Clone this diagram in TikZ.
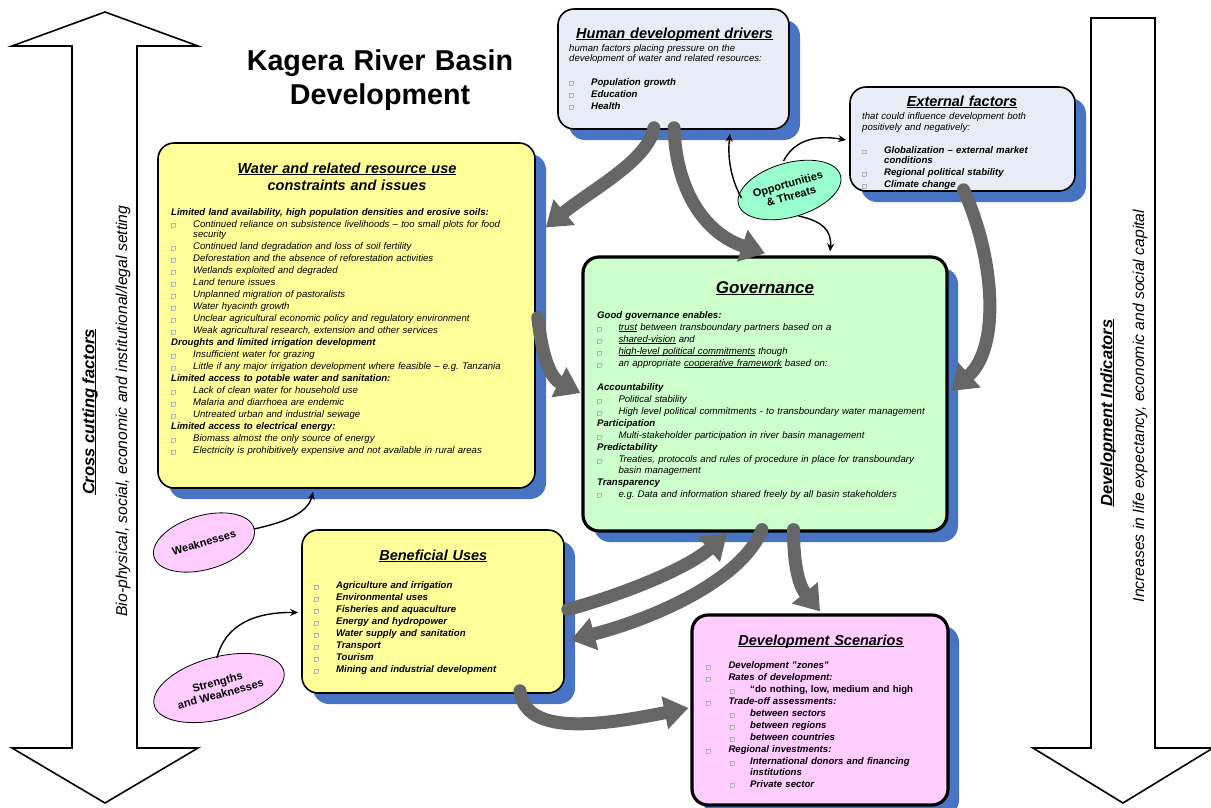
\documentclass[tikz,border=0pt]{standalone}
\usepackage{fontspec}
\setmainfont{Liberation Sans}
\usetikzlibrary{arrows.meta,shapes.geometric,shadows,calc}
\definecolor{shblue}{RGB}{72,116,196}
\definecolor{lblue}{RGB}{231,236,247}
\definecolor{lyel}{RGB}{255,255,153}
\definecolor{lgreen}{RGB}{204,255,204}
\definecolor{lpink}{RGB}{255,204,255}
\definecolor{mint}{RGB}{153,255,204}
\definecolor{agray}{RGB}{102,102,102}
\frenchspacing
\newcommand\bul{{\color{black!30}\setlength\fboxsep{0pt}\setlength\fboxrule{0.4pt}\fbox{\rule{0pt}{3.4pt}\hspace{3.2pt}}}}
\newcommand\itm[2][22pt]{\hangindent=#1\hangafter=1\makebox[#1][l]{\bul}#2\par}
\newcommand\sitm[1]{\hangindent=44pt\hangafter=1\leavevmode\hspace*{24pt}\makebox[20pt][l]{\bul}#1\par}
\newcommand\hd[1]{{\bfseries #1}\par}
\newcommand\ul[1]{\setbox0\hbox{#1}\rlap{\rule[-0.13em]{\wd0}{0.07em}}\box0\relax}
\begin{document}
\begin{tikzpicture}[x=1pt,y=-1pt,
 box/.style={draw=black, line width=1.6pt, rounded corners=16pt, inner sep=0pt,
   general shadow={shadow xshift=11pt, shadow yshift=-11pt, fill=shblue}},
 thickbox/.style={box, line width=3.2pt},
 body/.style={anchor=base west, inner sep=0pt, align=left, text width=#1,
   font=\fontsize{9.6}{10.5}\selectfont\itshape,
   execute at begin node={\setlength\parskip{1.5pt}}},
 btitle/.style={anchor=base, inner sep=0pt, align=center, text width=330pt,
   font=\fontsize{14.5}{17}\selectfont\bfseries\itshape},
 garrow/.style={draw=agray, line width=13pt, line cap=round, -{Triangle[width=32pt,length=24pt]}},
 tarrow/.style={draw=black, line width=1.4pt, -{Stealth[width=7pt,length=8pt]}},
 oval/.style={ellipse, draw=black, line width=0.8pt, inner sep=0pt, align=center,
   font=\fontsize{11}{12.5}\selectfont\bfseries},
 bigarrow/.style={draw=black, line width=1.6pt, fill=white},
 sidetitle/.style={rotate=90, inner sep=0pt, font=\fontsize{16.5}{18}\selectfont\bfseries\itshape},
 sidetext/.style={rotate=90, inner sep=0pt, font=\fontsize{15.7}{18}\selectfont\itshape}
]
\useasboundingbox (0,0) rectangle (1211,807);
\fill[white] (0,0) rectangle (1211,807);

% big side arrows
\draw[bigarrow] (105,12) -- (198,46) -- (137,46) -- (137,748) -- (198,748) -- (105,803) -- (12,748) -- (72,748) -- (72,46) -- (12,46) -- cycle;
\draw[bigarrow] (1091,18) -- (1155,18) -- (1155,748) -- (1213,748) -- (1123,803) -- (1033,748) -- (1091,748) -- cycle;
\node[sidetitle] (cc) at (90,412) {\ul{Cross cutting factors}};
\node[sidetext] (bio) at (123,411) {Bio-physical, social, economic and institutional/legal setting};
\node[sidetitle] (di) at (1108,413) {\ul{Development Indicators}};
\node[sidetext] (inc) at (1140,406) {Increases in life expectancy, economic and social capital};

% main title
\node[anchor=base, inner sep=0pt, align=center, text width=400pt,
  font=\fontsize{28.7}{34}\selectfont\bfseries] (title) at (380,70) {Kagera River Basin\\Development};

% boxes
\node[box, fill=lblue, minimum width=231pt, minimum height=120pt] (human) at (673.5,69) {};
\node[box, fill=lblue, minimum width=225pt, minimum height=104pt] (ext) at (962.5,139) {};
\node[box, fill=lyel, minimum width=377pt, minimum height=345pt] (water) at (346.5,315.5) {};
\node[thickbox, fill=lgreen, minimum width=364pt, minimum height=274pt] (gov) at (765,394) {};
\node[box, fill=lyel, minimum width=262pt, minimum height=163pt] (ben) at (433,611.5) {};
\node[thickbox, fill=lpink, minimum width=256pt, minimum height=190pt] (dev) at (820,710) {};

% human box text
\node[btitle] (humant) at (674.5,38.5) {\ul{Human development drivers}};
\node[body=215pt] (humanb) at (569,51) {human factors placing pressure on the\newline development of water and related resources:\par
\vskip11.5pt
\itm{\textbf{Population growth}}
\itm{\textbf{Education}}
\itm{\textbf{Health}}};

% external box text
\node[btitle] (extt) at (962,106) {\ul{External factors}};
\node[body=205pt] (extb) at (862,119.5) {that could influence development both\newline positively and negatively:\par
\vskip11.3pt
\itm{\textbf{Globalization -- external market\newline conditions}}
\itm{\textbf{Regional political stability}}
\itm{\textbf{Climate change}}};

% water box text
\node[btitle] (watert) at (347,173) {\ul{Water and related resource use}\\constraints and issues};
\node[body=365pt] (waterb) at (171,215) {\hd{Limited land availability, high population densities and erosive soils:}
\itm{Continued reliance on subsistence livelihoods -- too small plots for food\newline security}
\itm{Continued land degradation and loss of soil fertility}
\itm{Deforestation and the absence of reforestation activities}
\itm{Wetlands exploited and degraded}
\itm{Land tenure issues}
\itm{Unplanned migration of pastoralists}
\itm{Water hyacinth growth}
\itm{Unclear agricultural economic policy and regulatory environment}
\itm{Weak agricultural research, extension and other services}
\hd{Droughts and limited irrigation development}
\itm{Insufficient water for grazing}
\itm{Little if any major irrigation development where feasible -- e.g. Tanzania}
\hd{Limited access to potable water and sanitation:}
\itm{Lack of clean water for household use}
\itm{Malaria and diarrhoea are endemic}
\itm{Untreated urban and industrial sewage}
\hd{Limited access to electrical energy:}
\itm{Biomass almost the only source of energy}
\itm{Electricity is prohibitively expensive and not available in rural areas}};

% governance text
\node[btitle, font=\fontsize{17}{20}\selectfont\bfseries\itshape] (govt) at (765,293) {\ul{Governance}};
\node[body=345pt] (govb) at (597,318.5) {\hd{Good governance enables:}
\itm[21.3pt]{\ul{trust} between transboundary partners based on a}
\itm[21.3pt]{\ul{shared-vision} and}
\itm[21.3pt]{\ul{high-level political commitments} though}
\itm[21.3pt]{an appropriate \ul{cooperative framework} based on:}
\vskip12pt
\hd{Accountability}
\itm[21.3pt]{Political stability}
\itm[21.3pt]{High level political commitments - to transboundary water management}
\hd{Participation}
\itm[21.3pt]{Multi-stakeholder participation in river basin management}
\hd{Predictability}
\itm[21.3pt]{Treaties, protocols and rules of procedure in place for transboundary\newline basin management}
\hd{Transparency}
\itm[21.3pt]{e.g. Data and information shared freely by all basin stakeholders}};

% beneficial uses text
\node[btitle] (bent) at (433.3,560.5) {\ul{Beneficial Uses}};
\node[body=240pt] (benb) at (314,588.5) {\itm{\textbf{Agriculture and irrigation}}
\itm{\textbf{Environmental uses}}
\itm{\textbf{Fisheries and aquaculture}}
\itm{\textbf{Energy and hydropower}}
\itm{\textbf{Water supply and sanitation}}
\itm{\textbf{Transport}}
\itm{\textbf{Tourism}}
\itm{\textbf{Mining and industrial development}}};

% development scenarios text
\node[btitle] (devt) at (821,645) {\ul{Development Scenarios}};
\node[body=235pt] (devb) at (706,668.5) {\itm[22.3pt]{\textbf{Development "zones"}}
\itm[22.3pt]{\textbf{Rates of development:}}
\sitm{\textbf{\upshape “do nothing, low, medium and high}}
\itm[22.3pt]{\textbf{Trade-off assessments:}}
\sitm{\textbf{between sectors}}
\sitm{\textbf{between regions}}
\sitm{\textbf{between countries}}
\itm[22.3pt]{\textbf{Regional investments:}}
\sitm{\textbf{International donors and financing\newline institutions}}
\sitm{\textbf{Private sector}}};

% ellipses
\node[oval, fill=mint, minimum width=106pt, minimum height=54pt, rotate=16] (opp) at (789.5,190) {Opportunities\\\& Threats};
\node[oval, fill=lpink, minimum width=104pt, minimum height=54pt, rotate=16] (weak) at (204,542.5) {Weaknesses};
\node[oval, fill=lpink, minimum width=134pt, minimum height=62pt, rotate=15] (str) at (219,688) {Strengths\\and Weaknesses};

% thin arrows
\draw[tarrow] ($(opp)+(-48,8)$) .. controls +(-9,-16) and +(-3,27) .. ($(human.south)+(56.5,4)$);
\draw[tarrow] ($(opp)+(-6,-29)$) .. controls +(11.5,-22) and +(-29,-5) .. ($(ext.west)+(-3,1)$);
\draw[tarrow] ($(opp)+(9,26)$) .. controls +(23.5,5) and +(2,-21) .. ($(gov.north)+(65,-4)$);
\draw[tarrow] ($(weak)+(50,-13.5)$) .. controls +(32,-7) and +(-5,21) .. ($(water.south)+(-33.5,3)$);
\draw[tarrow] ($(str)+(-2,-30)$) .. controls +(8,-33) and +(-44,-0.5) .. ($(ben.west)+(-3,1)$);

% thick gray arrows
\draw[garrow] ($(human.south)+(-19.5,-2)$) .. controls +(-6,33) and +(45,-37.5) .. ($(water.east)+(10,-88)$);
\draw[garrow] ($(human.south)+(0.5,-2)$) .. controls +(2,63) and +(-60,-20) .. ($(gov.north)+(0,-2)$);
\draw[garrow] ($(ext.south)+(1,-2)$) .. controls +(30,65) and +(50,-45) .. ($(gov.east)+(3,-3)$);
\draw[garrow] ($(water.east)+(2,2)$) .. controls +(5,45) and +(-28,-14) .. ($(gov.west)+(-1,-1)$);
\draw[garrow] ($(ben.east)+(3,-2)$) .. controls +(55,-15) and +(-40,35) .. ($(gov.south)+(-38,1)$);
\draw[garrow] ($(gov.south)+(-3,-3)$) .. controls +(-20,50) and +(85,-22) .. ($(ben.east)+(6,28.5)$);
\draw[garrow] ($(gov.south)+(28.5,-3)$) .. controls +(0,45) and +(-18,-22) .. ($(dev.north)+(0,-2)$);
\draw[garrow] ($(ben.south)+(87,-3)$) .. controls +(5,45) and +(-90,18) .. ($(dev.west)+(-2,-2)$);
\end{tikzpicture}
\end{document}
